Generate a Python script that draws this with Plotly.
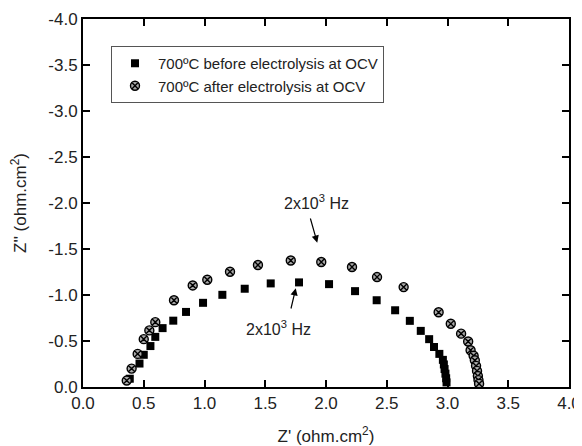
import plotly.graph_objects as go

# Before electrolysis (squares)
before_x = [0.385, 0.465, 0.50, 0.555, 0.595, 0.655, 0.743, 0.848, 0.988, 1.147, 1.331, 1.545,
            1.778, 2.025, 2.239, 2.417, 2.569, 2.69, 2.78, 2.849, 2.889, 2.933, 2.962, 2.97,
            2.976, 2.983, 2.989, 2.992]
before_y = [-0.09, -0.255, -0.35, -0.445, -0.545, -0.64, -0.721, -0.816, -0.915, -1.002, -1.068, -1.126,
            -1.137, -1.118, -1.042, -0.943, -0.834, -0.719, -0.61, -0.52, -0.435, -0.36, -0.295, -0.245,
            -0.195, -0.145, -0.095, -0.05]

# After electrolysis (crossed circles)
after_x = [0.36, 0.40, 0.45, 0.50, 0.546, 0.595, 0.749, 0.903, 1.023, 1.21, 1.44, 1.71, 1.961,
           2.214, 2.42, 2.639, 2.927, 3.027, 3.112, 3.17, 3.19, 3.215, 3.225, 3.235, 3.243, 3.25,
           3.255, 3.26]
after_y = [-0.07, -0.20, -0.36, -0.52, -0.615, -0.705, -0.943, -1.104, -1.166, -1.253, -1.326, -1.375, -1.359,
           -1.304, -1.195, -1.086, -0.812, -0.687, -0.58, -0.495, -0.40, -0.34, -0.29, -0.23, -0.175, -0.12,
           -0.075, -0.035]

series_names = ["700ºC before electrolysis at OCV", "700ºC after electrolysis at OCV"]

x_tick_vals = [0.0, 0.5, 1.0, 1.5, 2.0, 2.5, 3.0, 3.5, 4.0]
x_tick_text = ["0.0", "0.5", "1.0", "1.5", "2.0", "2.5", "3.0", "3.5", "4.0"]
x_minor_vals = [0.25, 0.75, 1.25, 1.75, 2.25, 2.75, 3.25, 3.75]
y_tick_vals = [0.0, -0.5, -1.0, -1.5, -2.0, -2.5, -3.0, -3.5, -4.0]
y_tick_text = ["0.0", "-0.5", "-1.0", "-1.5", "-2.0", "-2.5", "-3.0", "-3.5", "-4.0"]
y_minor_vals = [-0.25, -0.75, -1.25, -1.75, -2.25, -2.75, -3.25, -3.75]

freq_label = "2x10<sup>3</sup> Hz"

FONT = "Liberation Sans, Arial, sans-serif"
TXT = "#222222"

fig = go.Figure()
fig.add_trace(go.Scatter(
    x=before_x, y=before_y, mode="markers", name=series_names[0],
    marker=dict(symbol="square", size=8, color="black", line=dict(width=0)),
))
fig.add_trace(go.Scatter(
    x=after_x, y=after_y, mode="markers", name=series_names[1],
    marker=dict(symbol="circle-x", size=9, color="#a8a8a8", line=dict(color="black", width=1.4)),
))

# Major axes (labels, frame, major ticks)
fig.update_xaxes(range=[0, 4], tickvals=x_tick_vals, ticktext=x_tick_text,
                 showline=True, linecolor="black", linewidth=2, mirror="allticks",
                 ticks="inside", ticklen=7, tickwidth=2, tickcolor="black",
                 showgrid=False, zeroline=False, automargin=False,
                 tickfont=dict(family=FONT, size=17, color=TXT),
                 title=dict(text="Z' (ohm.cm<sup>2</sup>)", font=dict(family=FONT, size=17, color=TXT),
                            standoff=18))
fig.update_yaxes(range=[0, -4], tickvals=y_tick_vals, ticktext=y_tick_text,
                 showline=True, linecolor="black", linewidth=2, mirror="allticks",
                 ticks="inside", ticklen=7, tickwidth=2, tickcolor="black",
                 showgrid=False, zeroline=False, automargin=False,
                 tickfont=dict(family=FONT, size=17, color=TXT),
                 title=dict(text="Z'' (ohm.cm<sup>2</sup>)", font=dict(family=FONT, size=17, color=TXT),
                            standoff=22))

# Overlay axes carrying the shorter minor ticks
fig.update_layout(
    xaxis2=dict(range=[0, 4], overlaying="x", anchor="y2", tickvals=x_minor_vals,
                showticklabels=False, showline=False, mirror="allticks",
                ticks="inside", ticklen=4, tickwidth=2, tickcolor="black",
                showgrid=False, zeroline=False, automargin=False),
    yaxis2=dict(range=[0, -4], overlaying="y", anchor="x2", tickvals=y_minor_vals,
                showticklabels=False, showline=False, mirror="allticks",
                ticks="inside", ticklen=4, tickwidth=2, tickcolor="black",
                showgrid=False, zeroline=False, automargin=False),
)

# Frequency annotations
fig.add_annotation(x=1.928, y=-1.568, ax=1.868, ay=-1.848, xref="x", yref="y", axref="x", ayref="y",
                   text="", showarrow=True, arrowhead=2, arrowsize=1.2, arrowwidth=1.2, arrowcolor="black")
fig.add_annotation(x=1.923, y=-2.014, text=freq_label, showarrow=False, xref="x", yref="y",
                   font=dict(family=FONT, size=16, color=TXT))
fig.add_annotation(x=1.751, y=-1.073, ax=1.709, ay=-0.837, xref="x", yref="y", axref="x", ayref="y",
                   text="", showarrow=True, arrowhead=2, arrowsize=1.2, arrowwidth=1.2, arrowcolor="black")
fig.add_annotation(x=1.613, y=-0.641, text=freq_label, showarrow=False, xref="x", yref="y",
                   font=dict(family=FONT, size=16, color=TXT))

# The page body has an 8px margin, so the figure is sized to fill the window exactly.
fig.update_layout(
    width=574, height=438,
    margin=dict(l=75, r=13, t=11, b=59, autoexpand=False),
    plot_bgcolor="white", paper_bgcolor="white",
    showlegend=True,
    legend=dict(
        x=0.0576, y=0.9266, xanchor="left", yanchor="top",
        bordercolor="#555", borderwidth=1, bgcolor="white",
        font=dict(family=FONT, size=15, color=TXT),
        tracegroupgap=0, itemwidth=36,
    ),
)

fig.write_html("out.html")
